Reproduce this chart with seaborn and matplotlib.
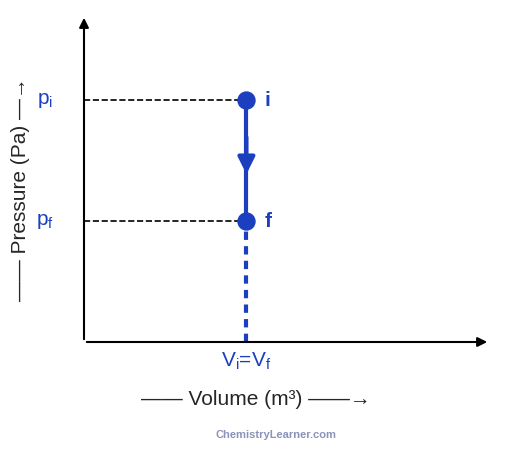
import matplotlib
matplotlib.use('Agg')
import matplotlib.pyplot as plt
import seaborn as sns
import pandas as pd

# Isochoric process: pressure drops at constant volume
states = ['i', 'f']
volume = [4.0, 4.0]
pressure = [7.4, 3.7]
tick_labels = ['p$_\\mathregular{i}$', 'p$_\\mathregular{f}$']

blue = '#1b3fbf'
df = pd.DataFrame({'state': states, 'V': volume, 'p': pressure})

sns.set_style('white')
plt.rcParams['font.family'] = ['Liberation Sans', 'DejaVu Sans']

fig = plt.figure(figsize=(5.12, 4.51), dpi=100)
ax = fig.add_axes([84 / 512, 109 / 451, 406 / 512, 327 / 451])
ax.set_xlim(0, 10)
ax.set_ylim(0, 10)
for s in ['top', 'right', 'left', 'bottom']:
    ax.spines[s].set_visible(False)
ax.set_xticks([])
ax.set_yticks([])

# axes with arrowheads
ax.annotate('', xy=(10, 0), xytext=(0, 0), annotation_clip=False,
            arrowprops=dict(arrowstyle='-|>', color='black', lw=1.5, mutation_scale=14))
ax.annotate('', xy=(0, 10), xytext=(0, 0), annotation_clip=False,
            arrowprops=dict(arrowstyle='-|>', color='black', lw=1.5, mutation_scale=14))

# guide lines
for p in pressure:
    ax.plot([0, volume[0]], [p, p], ls='--', color='black', lw=1.2)
ax.plot([volume[1], volume[1]], [0, pressure[1]], ls=(0, (2, 1.5)), color=blue, lw=3)

sns.lineplot(data=df, x='V', y='p', sort=False, estimator=None, color=blue, lw=3, ax=ax)
ax.annotate('', xy=(volume[0], (pressure[0] + pressure[1]) / 2 - 0.5),
            xytext=(volume[0], (pressure[0] + pressure[1]) / 2 + 0.8),
            arrowprops=dict(arrowstyle='-|>', color=blue, lw=3, mutation_scale=25))
sns.scatterplot(data=df, x='V', y='p', color=blue, s=150, edgecolor=blue, ax=ax, zorder=5)
ax.set_xlabel('')
ax.set_ylabel('')

for st, v, p in zip(states, volume, pressure):
    ax.text(v + 0.45, p, st, color=blue, fontsize=15, fontweight='bold', va='center')
for lab, p in zip(tick_labels, pressure):
    ax.text(-0.75, p, lab, color=blue, fontsize=15, ha='right', va='center')
ax.text(volume[0], -0.25, 'V$_\\mathregular{i}$=V$_\\mathregular{f}$', color=blue,
        fontsize=15, ha='center', va='top')

fig.text(0.5, 0.115, '\u2014\u2014 Volume (m\u00b3) \u2014\u2014\u2192', fontsize=15, ha='center', va='center')
fig.text(0.04, 0.58, '\u2014\u2014 Pressure (Pa) \u2014\u2192', fontsize=15, ha='center', va='center', rotation=90)
fig.text(0.54, 0.035, 'ChemistryLearner.com', fontsize=8, fontweight='bold', color='#8a93b8',
         ha='center', va='center')

fig.savefig('out.png', dpi=100)
